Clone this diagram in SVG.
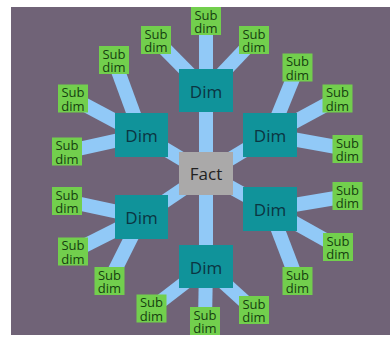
<svg xmlns="http://www.w3.org/2000/svg" width="390" height="338" viewBox="0 0 390 338">
<style>
.bg{fill:#706377}
.ln{stroke:#91c9f7;stroke-width:14;stroke-linecap:butt}
.dim rect{fill:#10939a}
.dim text{font-family:"Open Sans","DejaVu Sans",sans-serif;font-size:17px;fill:#0b3542;text-anchor:middle}
.fact rect{fill:#aaa9a9}
.fact text{font-family:"Open Sans","DejaVu Sans",sans-serif;font-size:17px;fill:#222;text-anchor:middle}
.sub rect{fill:#72cf4d}
.sub text{font-family:"Open Sans","DejaVu Sans",sans-serif;font-size:13px;fill:#163f10;text-anchor:middle}
</style>
<rect x="0" y="0" width="390" height="338" fill="#ffffff"/>
<rect class="bg" x="11" y="7" width="379" height="328"/>
<g id="connectors">
<line class="ln" x1="206" y1="173.5" x2="206" y2="90.5"/>
<line class="ln" x1="206" y1="173.5" x2="141.5" y2="135"/>
<line class="ln" x1="206" y1="173.5" x2="270" y2="135"/>
<line class="ln" x1="206" y1="173.5" x2="141.5" y2="217"/>
<line class="ln" x1="206" y1="173.5" x2="270" y2="209"/>
<line class="ln" x1="206" y1="173.5" x2="206" y2="266.5"/>
<line class="ln" x1="206" y1="90.5" x2="206" y2="21"/>
<line class="ln" x1="206" y1="90.5" x2="156" y2="40"/>
<line class="ln" x1="206" y1="90.5" x2="254" y2="40"/>
<line class="ln" x1="141.5" y1="135" x2="114" y2="60"/>
<line class="ln" x1="141.5" y1="135" x2="73" y2="98.5"/>
<line class="ln" x1="141.5" y1="135" x2="67" y2="151.5"/>
<line class="ln" x1="141.5" y1="217" x2="67" y2="201"/>
<line class="ln" x1="141.5" y1="217" x2="73" y2="251.5"/>
<line class="ln" x1="141.5" y1="217" x2="109.5" y2="281"/>
<line class="ln" x1="206" y1="266.5" x2="151.5" y2="308.5"/>
<line class="ln" x1="206" y1="266.5" x2="205" y2="321"/>
<line class="ln" x1="206" y1="266.5" x2="254" y2="310"/>
<line class="ln" x1="270" y1="209" x2="297.5" y2="281"/>
<line class="ln" x1="270" y1="209" x2="338" y2="247"/>
<line class="ln" x1="270" y1="209" x2="347.5" y2="196"/>
<line class="ln" x1="270" y1="135" x2="347.5" y2="149"/>
<line class="ln" x1="270" y1="135" x2="337.5" y2="98.5"/>
<line class="ln" x1="270" y1="135" x2="297.5" y2="67.5"/>
</g>
<g id="fact" class="fact"><rect x="179" y="152" width="54" height="43"/><text x="206" y="180">Fact</text></g>
<g id="dim1" class="dim"><rect x="179" y="69" width="54" height="43"/><text x="206" y="98">Dim</text></g>
<g id="dim2" class="dim"><rect x="115" y="113" width="53" height="44"/><text x="141.5" y="142">Dim</text></g>
<g id="dim3" class="dim"><rect x="243" y="113" width="54" height="44"/><text x="270" y="142">Dim</text></g>
<g id="dim4" class="dim"><rect x="115" y="195" width="53" height="44"/><text x="141.5" y="224">Dim</text></g>
<g id="dim5" class="dim"><rect x="243" y="187" width="54" height="44"/><text x="270" y="216">Dim</text></g>
<g id="dim6" class="dim"><rect x="179" y="245" width="54" height="43"/><text x="206" y="274">Dim</text></g>
<g id="sub1" class="sub"><rect x="191" y="7" width="30" height="28"/><text x="206" y="19.5">Sub</text><text x="206" y="33">dim</text></g>
<g id="sub2" class="sub"><rect x="141" y="26" width="30" height="28"/><text x="156" y="38.5">Sub</text><text x="156" y="52">dim</text></g>
<g id="sub3" class="sub"><rect x="239" y="26" width="30" height="28"/><text x="254" y="38.5">Sub</text><text x="254" y="52">dim</text></g>
<g id="sub4" class="sub"><rect x="99" y="46" width="30" height="28"/><text x="114" y="58.5">Sub</text><text x="114" y="72">dim</text></g>
<g id="sub5" class="sub"><rect x="58" y="84.5" width="30" height="28"/><text x="73" y="97">Sub</text><text x="73" y="110.5">dim</text></g>
<g id="sub6" class="sub"><rect x="52" y="137.5" width="30" height="28"/><text x="67" y="150">Sub</text><text x="67" y="163.5">dim</text></g>
<g id="sub7" class="sub"><rect x="52" y="187" width="30" height="28"/><text x="67" y="199.5">Sub</text><text x="67" y="213">dim</text></g>
<g id="sub8" class="sub"><rect x="58" y="237.5" width="30" height="28"/><text x="73" y="250">Sub</text><text x="73" y="263.5">dim</text></g>
<g id="sub9" class="sub"><rect x="94.5" y="267" width="30" height="28"/><text x="109.5" y="279.5">Sub</text><text x="109.5" y="293">dim</text></g>
<g id="sub10" class="sub"><rect x="136.5" y="294.5" width="30" height="28"/><text x="151.5" y="307">Sub</text><text x="151.5" y="320.5">dim</text></g>
<g id="sub11" class="sub"><rect x="190" y="307" width="30" height="28"/><text x="205" y="319.5">Sub</text><text x="205" y="333">dim</text></g>
<g id="sub12" class="sub"><rect x="239" y="296" width="30" height="28"/><text x="254" y="308.5">Sub</text><text x="254" y="322">dim</text></g>
<g id="sub13" class="sub"><rect x="282.5" y="267" width="30" height="28"/><text x="297.5" y="279.5">Sub</text><text x="297.5" y="293">dim</text></g>
<g id="sub14" class="sub"><rect x="323" y="233" width="30" height="28"/><text x="338" y="245.5">Sub</text><text x="338" y="259">dim</text></g>
<g id="sub15" class="sub"><rect x="332.5" y="182" width="30" height="28"/><text x="347.5" y="194.5">Sub</text><text x="347.5" y="208">dim</text></g>
<g id="sub16" class="sub"><rect x="332.5" y="135" width="30" height="28"/><text x="347.5" y="147.5">Sub</text><text x="347.5" y="161">dim</text></g>
<g id="sub17" class="sub"><rect x="322.5" y="84.5" width="30" height="28"/><text x="337.5" y="97">Sub</text><text x="337.5" y="110.5">dim</text></g>
<g id="sub18" class="sub"><rect x="282.5" y="53.5" width="30" height="28"/><text x="297.5" y="66">Sub</text><text x="297.5" y="79.5">dim</text></g>
</svg>
